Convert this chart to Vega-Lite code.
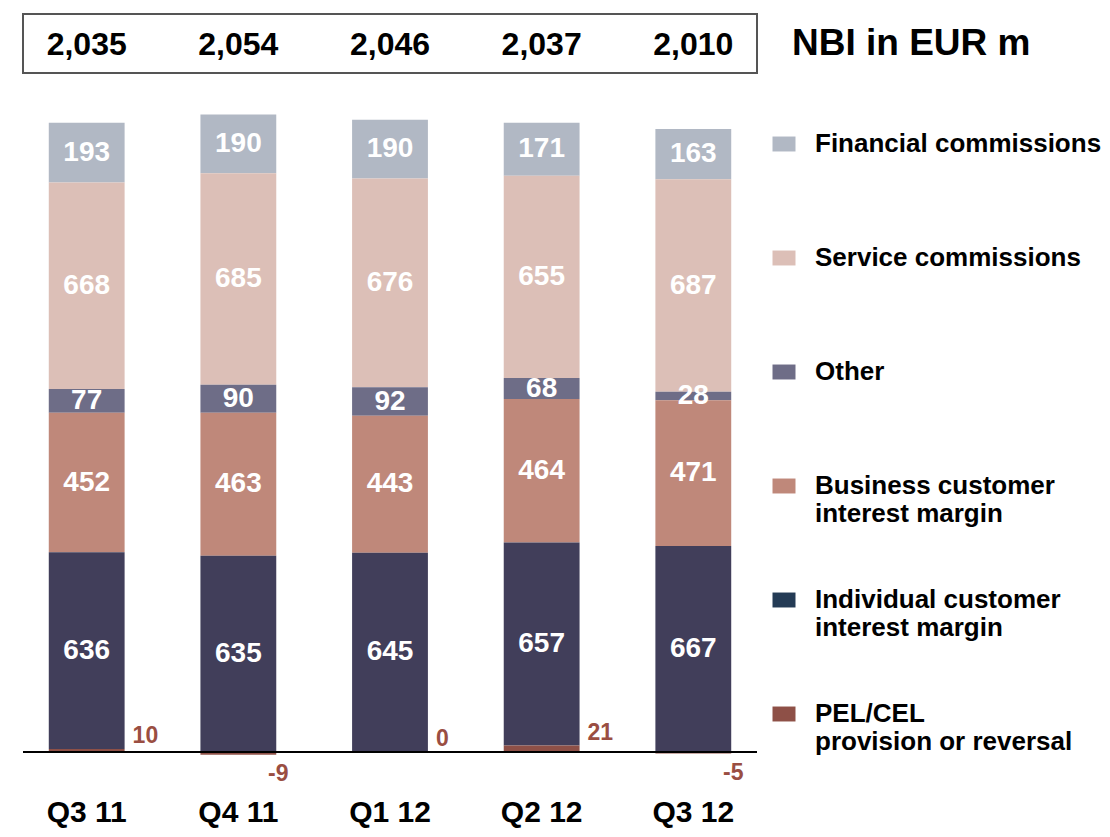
{
  "$schema": "https://vega.github.io/schema/vega-lite/v6.json",
  "autosize": "none",
  "width": 734,
  "height": 768,
  "padding": {"left": 23, "top": 14, "right": 353, "bottom": 55},
  "background": "white",
  "config": {
    "view": {"stroke": null},
    "font": "Liberation Sans",
    "text": {"font": "Liberation Sans", "fontWeight": "bold"}
  },
  "title": {
    "text": "NBI in EUR m",
    "orient": "top",
    "anchor": "end",
    "frame": "group",
    "align": "left",
    "baseline": "middle",
    "offset": 0,
    "dx": 35,
    "dy": 68,
    "font": "Liberation Sans",
    "fontSize": 37,
    "fontWeight": "bold",
    "color": "black"
  },
  "datasets": {
    "segments": [
      {"quarter": "Q3 11", "cat": "Financial commissions", "value": 193},
      {"quarter": "Q3 11", "cat": "Service commissions", "value": 668},
      {"quarter": "Q3 11", "cat": "Other", "value": 77},
      {"quarter": "Q3 11", "cat": "Business customer interest margin", "value": 452},
      {"quarter": "Q3 11", "cat": "Individual customer interest margin", "value": 636},
      {"quarter": "Q3 11", "cat": "PEL/CEL provision or reversal", "value": 10},
      {"quarter": "Q4 11", "cat": "Financial commissions", "value": 190},
      {"quarter": "Q4 11", "cat": "Service commissions", "value": 685},
      {"quarter": "Q4 11", "cat": "Other", "value": 90},
      {"quarter": "Q4 11", "cat": "Business customer interest margin", "value": 463},
      {"quarter": "Q4 11", "cat": "Individual customer interest margin", "value": 635},
      {"quarter": "Q4 11", "cat": "PEL/CEL provision or reversal", "value": -9},
      {"quarter": "Q1 12", "cat": "Financial commissions", "value": 190},
      {"quarter": "Q1 12", "cat": "Service commissions", "value": 676},
      {"quarter": "Q1 12", "cat": "Other", "value": 92},
      {"quarter": "Q1 12", "cat": "Business customer interest margin", "value": 443},
      {"quarter": "Q1 12", "cat": "Individual customer interest margin", "value": 645},
      {"quarter": "Q1 12", "cat": "PEL/CEL provision or reversal", "value": 0},
      {"quarter": "Q2 12", "cat": "Financial commissions", "value": 171},
      {"quarter": "Q2 12", "cat": "Service commissions", "value": 655},
      {"quarter": "Q2 12", "cat": "Other", "value": 68},
      {"quarter": "Q2 12", "cat": "Business customer interest margin", "value": 464},
      {"quarter": "Q2 12", "cat": "Individual customer interest margin", "value": 657},
      {"quarter": "Q2 12", "cat": "PEL/CEL provision or reversal", "value": 21},
      {"quarter": "Q3 12", "cat": "Financial commissions", "value": 163},
      {"quarter": "Q3 12", "cat": "Service commissions", "value": 687},
      {"quarter": "Q3 12", "cat": "Other", "value": 28},
      {"quarter": "Q3 12", "cat": "Business customer interest margin", "value": 471},
      {"quarter": "Q3 12", "cat": "Individual customer interest margin", "value": 667},
      {"quarter": "Q3 12", "cat": "PEL/CEL provision or reversal", "value": -5}
    ],
    "totals": [
      {"quarter": "Q3 11", "total": 2035},
      {"quarter": "Q4 11", "total": 2054},
      {"quarter": "Q1 12", "total": 2046},
      {"quarter": "Q2 12", "total": 2037},
      {"quarter": "Q3 12", "total": 2010}
    ]
  },
  "layer": [
    {
      "data": {"name": "segments"},
      "transform": [
        {"calculate": "datum.cat == 'PEL/CEL provision or reversal' ? 0 : datum.cat == 'Individual customer interest margin' ? 1 : datum.cat == 'Business customer interest margin' ? 2 : datum.cat == 'Other' ? 3 : datum.cat == 'Service commissions' ? 4 : 5", "as": "stackOrder"}
      ],
      "mark": {"type": "bar"},
      "encoding": {
        "x": {
          "field": "quarter",
          "type": "nominal",
          "sort": ["Q3 11", "Q4 11", "Q1 12", "Q2 12", "Q3 12"],
          "scale": {"paddingInner": 0.5, "paddingOuter": 0.17},
          "axis": {
            "title": null,
            "orient": "bottom",
            "domain": false,
            "ticks": false,
            "labelAngle": 0,
            "labelFont": "Liberation Sans",
            "labelFontSize": 30,
            "labelFontWeight": "bold",
            "labelColor": "black",
            "labelBaseline": "middle",
            "labelPadding": 30
          }
        },
        "y": {
          "field": "value",
          "type": "quantitative",
          "stack": "zero",
          "scale": {"domain": [-97, 2388], "nice": false, "zero": false},
          "axis": null
        },
        "order": {"field": "stackOrder", "type": "quantitative"},
        "fill": {
          "condition": {"test": "datum.cat == 'Individual customer interest margin'", "value": "#413E5A"},
          "field": "cat",
          "type": "nominal",
          "sort": ["Financial commissions", "Service commissions", "Other", "Business customer interest margin", "Individual customer interest margin", "PEL/CEL provision or reversal"],
          "scale": {
            "domain": ["Financial commissions", "Service commissions", "Other", "Business customer interest margin", "Individual customer interest margin", "PEL/CEL provision or reversal"],
            "range": ["#B1B8C4", "#DCBFB7", "#6E6D87", "#BF887A", "#243B55", "#8E5047"]
          },
          "legend": {
            "title": null,
            "orient": "none",
            "legendX": 748,
            "legendY": 117,
            "padding": 0,
            "gridAlign": "all",
            "rowPadding": 60,
            "symbolType": "M-1,-0.65H1V0.65H-1Z",
            "symbolSize": 529,
            "symbolStrokeWidth": 0,
            "labelOffset": 18,
            "labelFont": "Liberation Sans",
            "labelFontSize": 26,
            "labelFontWeight": "bold",
            "labelColor": "black",
            "labelLimit": 400,
            "labelExpr": "datum.label == 'Business customer interest margin' ? ['Business customer', 'interest margin'] : datum.label == 'Individual customer interest margin' ? ['Individual customer', 'interest margin'] : datum.label == 'PEL/CEL provision or reversal' ? ['PEL/CEL', 'provision or reversal'] : datum.label"
          }
        }
      }
    },
    {
      "data": {"name": "segments"},
      "transform": [
        {"calculate": "datum.cat == 'PEL/CEL provision or reversal' ? 0 : datum.cat == 'Individual customer interest margin' ? 1 : datum.cat == 'Business customer interest margin' ? 2 : datum.cat == 'Other' ? 3 : datum.cat == 'Service commissions' ? 4 : 5", "as": "stackOrder"}
      ],
      "mark": {"type": "text", "color": "white", "fontSize": 28, "fontWeight": "bold", "baseline": "middle", "align": "center"},
      "encoding": {
        "x": {"field": "quarter", "type": "nominal", "sort": ["Q3 11", "Q4 11", "Q1 12", "Q2 12", "Q3 12"]},
        "y": {"field": "value", "type": "quantitative", "stack": "zero", "bandPosition": 0.5},
        "order": {"field": "stackOrder", "type": "quantitative"},
        "detail": {"field": "cat"},
        "text": {
          "condition": {"test": "datum.cat == 'PEL/CEL provision or reversal'", "value": ""},
          "field": "value",
          "type": "quantitative"
        }
      }
    },
    {
      "data": {"name": "segments"},
      "transform": [{"filter": "datum.cat == 'PEL/CEL provision or reversal' && datum.value >= 0"}],
      "mark": {"type": "text", "color": "#9A4E42", "fontSize": 23, "fontWeight": "bold", "baseline": "middle", "align": "left", "dx": 8, "dy": -13},
      "encoding": {
        "x": {"field": "quarter", "type": "nominal", "sort": ["Q3 11", "Q4 11", "Q1 12", "Q2 12", "Q3 12"], "bandPosition": 1},
        "y": {"field": "value", "type": "quantitative"},
        "text": {"field": "value", "type": "nominal"}
      }
    },
    {
      "data": {"name": "segments"},
      "transform": [{"filter": "datum.cat == 'PEL/CEL provision or reversal' && datum.value < 0"}],
      "mark": {"type": "text", "color": "#9A4E42", "fontSize": 23, "fontWeight": "bold", "baseline": "middle", "align": "center", "dx": 2, "dy": 19},
      "encoding": {
        "x": {"field": "quarter", "type": "nominal", "sort": ["Q3 11", "Q4 11", "Q1 12", "Q2 12", "Q3 12"], "bandPosition": 1},
        "y": {"field": "value", "type": "quantitative"},
        "text": {"field": "value", "type": "nominal"}
      }
    },
    {
      "data": {"values": [{}]},
      "mark": {"type": "rule", "color": "black", "strokeWidth": 2},
      "encoding": {"y": {"datum": 0}}
    },
    {
      "data": {"values": [{}]},
      "mark": {"type": "rect", "fill": "white", "fillOpacity": 0, "stroke": "#555555", "strokeWidth": 2},
      "encoding": {"y": {"datum": 2388}, "y2": {"datum": 2197}}
    },
    {
      "data": {"name": "totals"},
      "mark": {"type": "text", "color": "black", "fontSize": 32, "fontWeight": "bold", "baseline": "middle", "align": "center"},
      "encoding": {
        "x": {"field": "quarter", "type": "nominal", "sort": ["Q3 11", "Q4 11", "Q1 12", "Q2 12", "Q3 12"]},
        "y": {"datum": 2288},
        "text": {"field": "total", "type": "quantitative", "format": ",d"}
      }
    }
  ]
}
